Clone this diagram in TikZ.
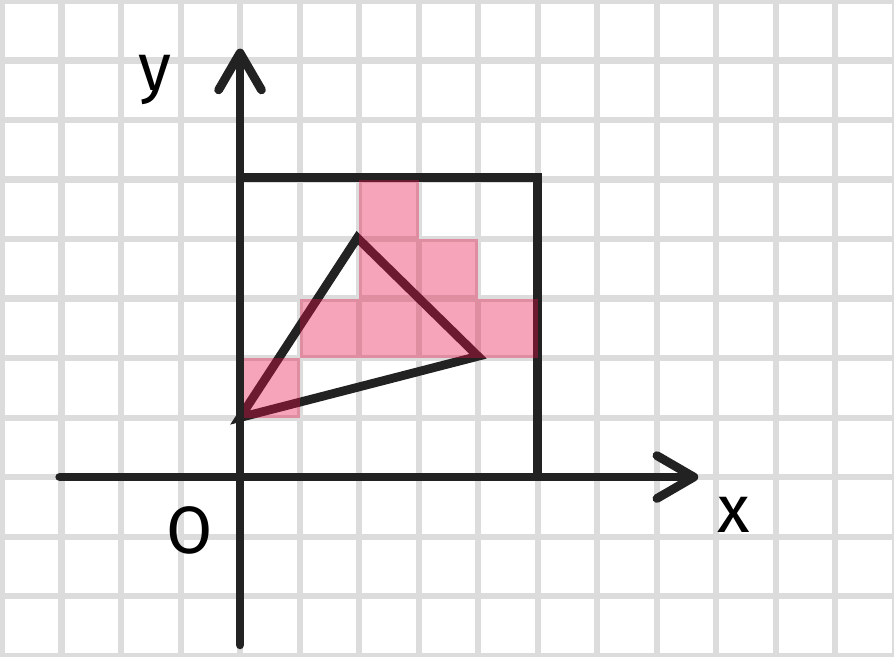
\documentclass[tikz,border=0pt]{standalone}
\usepackage{fontspec}
\setmainfont{Fira Sans}
\usepackage{tikz}
\usetikzlibrary{arrows.meta}
\definecolor{gridgray}{HTML}{DCDCDC}
\definecolor{inkblack}{HTML}{222222}
\definecolor{pixpink}{RGB}{230,15,70}

\begin{document}
\begin{tikzpicture}[x=1cm,y=1cm,
    pen/.style={draw=inkblack,line width=4.2pt,line cap=round,line join=round},
    axis/.style={pen,-{Straight Barb[length=6.2mm,width=7.2mm,line cap=round,line join=round]}},
    pixel/.style={fill=pixpink,fill opacity=0.38},
    hand/.style={text=black,font=\fontsize{32}{32}\selectfont,inner sep=0pt}]
  \useasboundingbox (-4.034,-3.008) rectangle (10.99,8.017);
  % paper grid
  \draw[gridgray,line width=2.9pt] (-4.034,-3.5) grid (11.5,8.5);
  % frame
  \draw[pen,line cap=butt,line join=miter] (0,5.03) -- (5,5.03) -- (5,0);
  % triangle
  \coordinate (A) at (0,1);
  \coordinate (B) at (1.97,4.02);
  \coordinate (C) at (4,2.03);
  \draw[pen,line join=miter] (A) -- (B) -- (C) -- cycle;
  % rasterised pixels
  \foreach \px/\py in {0/1,1/2,2/2,3/2,4/2,2/3,3/3,2/4}
    \fill[pixel] (\px,\py) rectangle ++(1,1);
  % axes
  \coordinate (xs) at (-3.03,0);
  \coordinate (xe) at (7.7,0);
  \coordinate (ys) at (0,-2.82);
  \coordinate (ye) at (0,7.2);
  \draw[axis] (xs) -- (xe);
  \draw[axis] (ys) -- (ye);
  \node[hand] (ylab) at (-1.43,6.67) {y};
  \node[hand] (xlab) at (8.29,-0.64) {x};
  \node[hand] (olab) at (-0.84,-0.89) {O};
\end{tikzpicture}
\end{document}
